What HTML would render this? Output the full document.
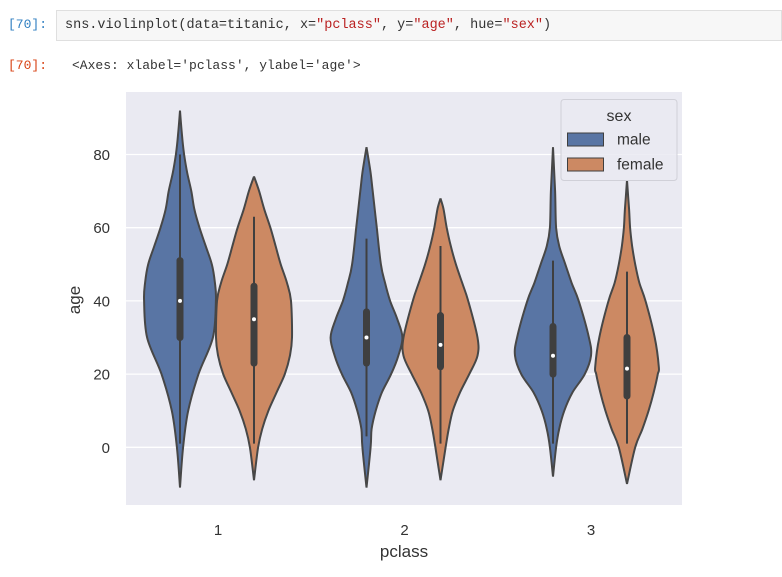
<!DOCTYPE html>
<html><head><meta charset="utf-8"><style>
body{margin:0;background:#fff;width:782px;height:577px;overflow:hidden;position:relative;font-family:"Liberation Sans",sans-serif}
.prompt{position:absolute;font-family:"Liberation Mono",monospace;font-size:13px}
.cell{position:absolute;left:56px;top:10px;width:726px;height:31px;background:#f7f7f7;border:1px solid #dfdfdf;box-sizing:border-box;font-family:"Liberation Mono",monospace;font-size:13.5px;line-height:29px;padding-left:8px;color:#333}
</style></head><body>
<div class="prompt" style="left:8px;top:17px;color:#307fc1">[70]:</div>
<div class="cell">sns.violinplot(data=titanic, x=<span style="color:#ba2121">"pclass"</span>, y=<span style="color:#ba2121">"age"</span>, hue=<span style="color:#ba2121">"sex"</span>)</div>
<div class="prompt" style="left:8px;top:58px;color:#d84315">[70]:</div>
<div class="prompt" style="left:72px;top:58px;color:#333">&lt;Axes: xlabel='pclass', ylabel='age'&gt;</div>
<svg id="chart" width="782" height="577" style="position:absolute;left:0;top:0" xmlns="http://www.w3.org/2000/svg"></svg>
<script>
const categories = ["1","2","3"];
const hues = ["male","female"];
const yTicks = [0,20,40,60,80];
// densities (relative half-widths) at ages
const violinAges = [
 [92,85,80,75,70,65,60,55,50,45,40,30,20,10,0,-11],
 [74,70,65,60,55,50,45,40,30,25,20,15,10,5,0,-9],
 [82,75,70,60,50,45,40,35,30,25,20,15,10,5,0,-11],
 [68,65,60,55,50,45,40,30,25,20,15,10,5,0,-9],
 [82,70,60,55,50,45,40,30,25,20,15,10,5,0,-8],
 [73,65,60,55,50,45,40,30,22,20,15,10,5,0,-10]
];
const violinDens = [
 [0,2,4,7,11,14,19,25,31,34,35,32,18,8,3,0],
 [0,5,10,16,21,26,32,36,37,35,30,22,14,8,4,0],
 [0,4,6,10,14,18,23,30,35,31,24,15,9,5,4,0],
 [0,3,6,10,15,21,27,36,36,28,19,12,8,5,0],
 [0,2,3,6,12,18,25,35,37,31,19,11,6,3,0],
 [0,2,3,5,8,12,18,27,31,30,26,21,15,8,0]
];
const q1 = [30,23,23,22,20,14];
const q3 = [51,44,37,36,33,30];
const medians = [40,35,30,28,25,21.5];
const whiskLo = [1,1,3,1,1,1];
const whiskHi = [80,63,57,55,51,48];

const NS="http://www.w3.org/2000/svg";
const svg=document.getElementById('chart');
const L=126,T=92,R=682,B=505;
const yS=a=>447.3-a*3.66;
const xBand=i=>217+i*186.5;
const hueOff=h=>(h===0?-37:37);
const maxDen=Math.max(...violinDens.flat());
const wS=d=>d/maxDen*38;
function mk(tag,attrs){const e=document.createElementNS(NS,tag);for(const k in attrs)e.setAttribute(k,attrs[k]);svg.appendChild(e);return e;}
let bg=mk('rect',{x:L,y:T,width:R-L,height:B-T,fill:'#eaeaf2'});


yTicks.forEach(v=>{
 const g=mk('line',{x1:L,x2:R,y1:yS(v),y2:yS(v),stroke:'#fff','stroke-width':1.3});
 
 
 const t=mk('text',{x:110,y:yS(v)+5.5,'text-anchor':'end','font-size':15,fill:'#333'});
 t.textContent=v;
 
 
});
categories.forEach((c,i)=>{
 const t=mk('text',{x:xBand(i)+1,y:535,'text-anchor':'middle','font-size':15,fill:'#333'});
 t.textContent=c;
 
 
});
function smooth(pts){
 let d='M'+pts[0][0]+','+pts[0][1];
 for(let i=0;i<pts.length-1;i++){
  const p0=pts[Math.max(0,i-1)],p1=pts[i],p2=pts[i+1],p3=pts[Math.min(pts.length-1,i+2)];
  const c1=[p1[0]+(p2[0]-p0[0])/6,p1[1]+(p2[1]-p0[1])/6];
  const c2=[p2[0]-(p3[0]-p1[0])/6,p2[1]-(p3[1]-p1[1])/6];
  d+=' C'+c1[0].toFixed(1)+','+c1[1].toFixed(1)+' '+c2[0].toFixed(1)+','+c2[1].toFixed(1)+' '+p2[0].toFixed(1)+','+p2[1].toFixed(1);
 }
 return d;
}
const colors=['#5975a4','#cc8963'];
for(let k=0;k<6;k++){
 const ci=Math.floor(k/2),h=k%2,cx=xBand(ci)+hueOff(h);
 const ages=violinAges[k],dens=violinDens[k];
 const right=ages.map((a,j)=>[cx+wS(dens[j]),yS(a)]);
 const left=ages.map((a,j)=>[cx-wS(dens[j]),yS(a)]).reverse();
 const d=smooth(right)+' '+smooth(left).replace('M',' L')+' Z';
 const p=mk('path',{d:d,fill:colors[h],stroke:'#474747','stroke-width':2});
 
 
 const w=mk('line',{x1:cx,x2:cx,y1:yS(whiskHi[k]),y2:yS(whiskLo[k]),stroke:'#3f3f3f','stroke-width':2});
 
 
 const b=mk('line',{x1:cx,x2:cx,y1:yS(q3[k]),y2:yS(q1[k]),stroke:'#3f3f3f','stroke-width':7,'stroke-linecap':'round'});
 
 
 const m=mk('circle',{cx:cx,cy:yS(medians[k]),r:2,fill:'#fff'});
 
 
}
let xl=mk('text',{x:404,y:557,'text-anchor':'middle','font-size':17,fill:'#333'});xl.textContent='pclass';


let yl=mk('text',{x:80,y:300,'text-anchor':'middle','font-size':17,fill:'#333',transform:'rotate(-90 80 300)'});yl.textContent='age';


let lg=mk('rect',{x:561,y:99.5,width:116,height:81,rx:3,fill:'#eaeaf2','fill-opacity':0.85,stroke:'#d0d0d8'});


let lt=mk('text',{x:619,y:121,'text-anchor':'middle','font-size':16,fill:'#333'});lt.textContent='sex';


hues.forEach((hn,h)=>{
 const y=133+h*25;
 const r=mk('rect',{x:567.5,y:y,width:36,height:13,fill:colors[h],stroke:'#3f3f3f','stroke-width':1});
 
 
 const t=mk('text',{x:617,y:y+11.5,'font-size':15.5,fill:'#333'});t.textContent=hn;
 
 
});
</script>
</body></html>
